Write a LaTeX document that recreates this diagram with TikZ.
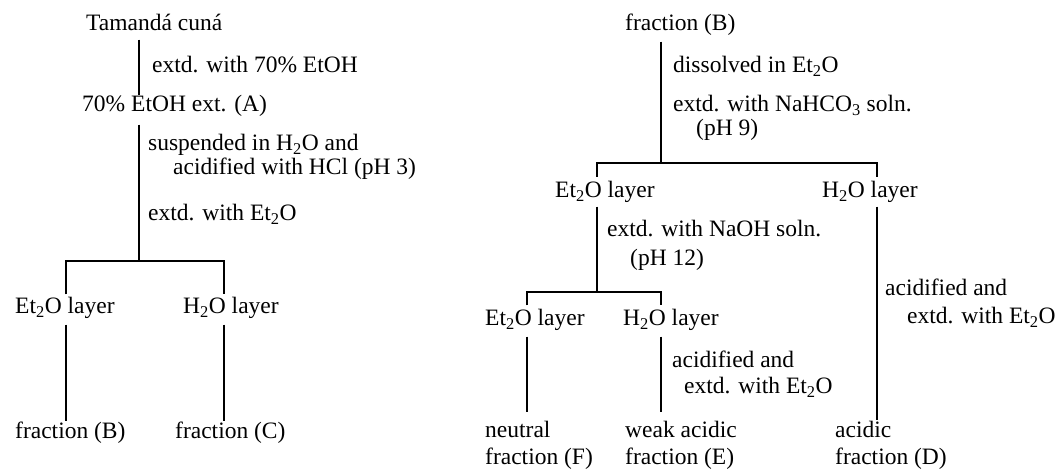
\documentclass[tikz,border=0pt]{standalone}
\usepackage{fontspec}
\setmainfont{Liberation Serif}
\begin{document}
\begin{tikzpicture}[x=1pt,y=-1pt,
  every node/.style={font=\fontsize{23.5}{28}\selectfont},
  txt/.style={anchor=west, inner sep=0pt, text height=16pt, text depth=5pt},
  link/.style={line width=1.5pt}]
\useasboundingbox[fill=white] (0,0) rectangle (1062,471);

% ---------- left scheme: extraction of the crude drug ----------
\node[txt] (tam) at (86,25)  {Tamandá cuná};
\node[txt] (s1)  at (152,67) {extd. with 70\% EtOH};
\node[txt] (A)   at (82,106) {70\% EtOH ext. (A)};
\node[txt] (s2)  at (148,145) {suspended in H\textsubscript{2}O and};
\node[txt] (s3)  at (173,169) {acidified with HCl (pH 3)};
\node[txt] (s4)  at (148,215) {extd. with Et\textsubscript{2}O};
\node[txt] (eL)  at (15,308)  {Et\textsubscript{2}O layer};
\node[txt] (hL)  at (183,308) {H\textsubscript{2}O layer};
\node[txt] (B)   at (15,433)  {fraction (B)};
\node[txt] (C)   at (175,433) {fraction (C)};

\coordinate (jL)  at (139,261);
\coordinate (xL1) at (66,0);
\coordinate (xL2) at (224,0);
\draw[link, shorten <=4pt] (tam.south -| jL) -- (A.north -| jL);
\draw[link, shorten <=8pt] (A.south -| jL) -- (jL);
\draw[link] ([yshift=3pt]eL.north -| xL1) |- (jL) -| ([yshift=3pt]hL.north -| xL2);
\draw[link, shorten <=6pt, shorten >=1pt] (eL.south -| xL1) -- (B.north -| xL1);
\draw[link, shorten <=6pt, shorten >=1pt] (hL.south -| xL2) -- (C.north -| xL2);

% ---------- right scheme: fractionation of fraction (B) ----------
\node[txt] (B2)  at (625,25)  {fraction (B)};
\node[txt] (r1)  at (673,67)  {dissolved in Et\textsubscript{2}O};
\node[txt] (r2)  at (673,106) {extd. with NaHCO\textsubscript{3} soln.};
\node[txt] (r3)  at (696,130) {(pH 9)};
\node[txt] (eR)  at (555,192) {Et\textsubscript{2}O layer};
\node[txt] (hR)  at (822,192) {H\textsubscript{2}O layer};
\node[txt] (r4)  at (607,231) {extd. with NaOH soln.};
\node[txt] (r5)  at (630,260) {(pH 12)};
\node[txt] (eR2) at (485,320) {Et\textsubscript{2}O layer};
\node[txt] (hR2) at (623,320) {H\textsubscript{2}O layer};
\node[txt] (r6)  at (672,362) {acidified and};
\node[txt] (r7)  at (684,388) {extd. with Et\textsubscript{2}O};
\node[txt] (r8)  at (885,290) {acidified and};
\node[txt] (r9)  at (907,318) {extd. with Et\textsubscript{2}O};
\node[txt] (F1)  at (485,432) {neutral};
\node[txt] (F)   at (485,459) {fraction (F)};
\node[txt] (E1)  at (625,432) {weak acidic};
\node[txt] (E)   at (625,459) {fraction (E)};
\node[txt] (D1)  at (835,432) {acidic};
\node[txt] (D)   at (835,459) {fraction (D)};

\coordinate (jR)  at (661,163);
\coordinate (xR1) at (597,0);
\coordinate (xR2) at (877,0);
\coordinate (jR2) at (597,292);
\coordinate (xR3) at (527,0);
\coordinate (xR4) at (661,0);
\draw[link, shorten <=6pt] (B2.south -| jR) -- (jR);
\draw[link] ([yshift=4.5pt]eR.north -| xR1) |- (jR) -| ([yshift=4.5pt]hR.north -| xR2);
\draw[link, shorten <=4pt] (eR.south -| jR2) -- (jR2);
\draw[link] ([yshift=4pt]eR2.north -| xR3) |- (jR2) -| ([yshift=4pt]hR2.north -| xR4);
\draw[link, shorten <=6pt, shorten >=9pt] (eR2.south -| xR3) -- (F1.north -| xR3);
\draw[link, shorten <=6pt, shorten >=9pt] (hR2.south -| xR4) -- (E1.north -| xR4);
\draw[link, shorten <=4pt, shorten >=1pt] (hR.south -| xR2) -- (D1.north -| xR2);
\end{tikzpicture}
\end{document}
